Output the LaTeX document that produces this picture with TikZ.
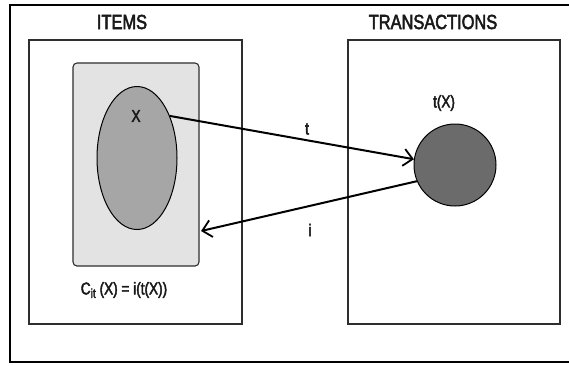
\documentclass[tikz,border=0pt]{standalone}
\usepackage{fontspec}
\setmainfont[FakeStretch=0.8,FakeBold=2.5]{Liberation Sans}
\usetikzlibrary{shapes.geometric,arrows.meta,calc}
\definecolor{panelfill}{HTML}{E3E3E3}
\definecolor{setfill}{HTML}{A6A6A6}
\definecolor{imgfill}{HTML}{6B6B6B}
\definecolor{edge}{HTML}{2E2E2E}
\tikzset{
  frameline/.style={line width=2pt, black},
  domainbox/.style={draw=edge, line width=1.1pt},
  title/.style={font=\fontsize{20.5}{20.5}\selectfont, text=black!90},
  lbl/.style={font=\fontsize{17}{17}\selectfont, text=black!90},
  maparrow/.style={line width=2pt, -{Straight Barb[length=9pt,width=17pt,line width=1.8pt]}},
}
\begin{document}
\begin{tikzpicture}[x=1pt,y=-1pt]
  \useasboundingbox (0,0) rectangle (569,365);
  \fill[white] (0,0) rectangle (569,365);
  % outer frame, open on the right
  \draw[frameline] (572,5) -- (10,5) -- (10,362) -- (572,362);

  % item domain
  \draw[domainbox] (29,40) rectangle (242,324);
  \node[title] (items) at (122,22) {ITEMS};
  \node[draw=edge, line width=1.1pt, fill=panelfill, rounded corners=4pt,
        minimum width=126pt, minimum height=203pt] (rr) at (136,164.5) {};
  \node[ellipse, draw=black, line width=1pt, fill=setfill,
        minimum width=80pt, minimum height=143pt, inner sep=0pt] (el) at (137,158) {};
  \node[lbl] (x) at (136,116) {X};
  \node[lbl] (cit) at (124,290) {C\raisebox{-3.5pt}{\fontsize{13}{13}\selectfont it} (X) = i(t(X))};

  % transaction domain
  \draw[domainbox] (348,40) rectangle (560,324);
  \node[title] (trans) at (433,22) {TRANSACTIONS};
  \node[circle, draw=black, line width=1pt, fill=imgfill,
        minimum size=82pt, inner sep=0pt] (cc) at (455,165) {};
  \node[lbl] (tx) at (444,103) {t(X)};

  % Galois connection maps
  \coordinate (back) at (201,231);
  \draw[maparrow] (el.52) -- (cc.172);
  \draw[maparrow] (cc.203) -- (back);
  \node[lbl] (tl) at (307,129) {t};
  \node[lbl] (il) at (310,230) {i};
\end{tikzpicture}
\end{document}
